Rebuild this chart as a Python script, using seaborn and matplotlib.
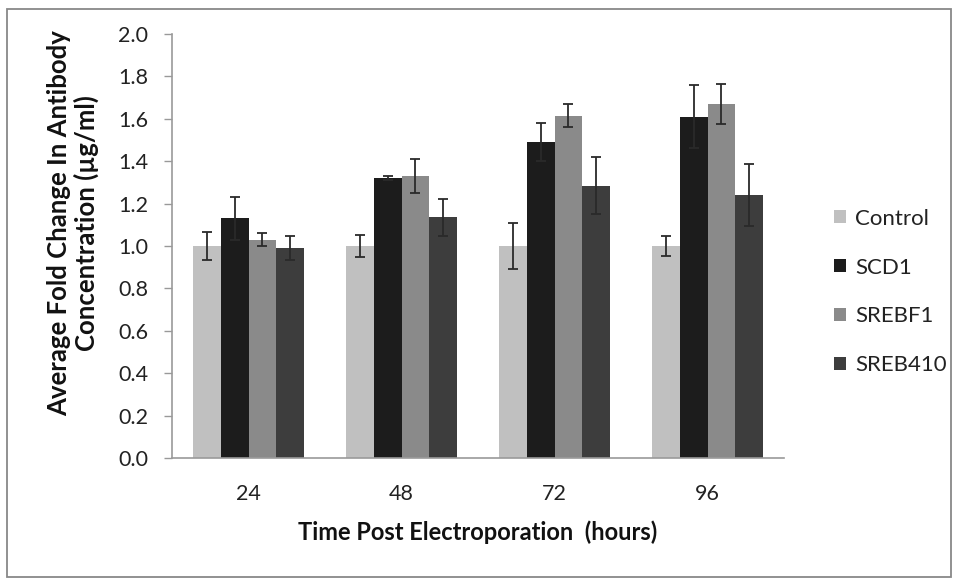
import matplotlib
matplotlib.use("Agg")
import matplotlib.pyplot as plt
import seaborn as sns
import pandas as pd
from matplotlib.patches import Rectangle
from matplotlib.ticker import FixedLocator

# ---- data ----
time_points = ["24", "48", "72", "96"]
groups = ["Control", "SCD1", "SREBF1", "SREB410"]
control_vals = [1.00, 1.00, 1.00, 1.00]
scd1_vals = [1.13, 1.32, 1.49, 1.61]
srebf1_vals = [1.03, 1.33, 1.615, 1.67]
sreb410_vals = [0.99, 1.135, 1.285, 1.24]
control_err = [0.065, 0.05, 0.11, 0.045]
scd1_err = [0.10, 0.01, 0.09, 0.148]
srebf1_err = [0.03, 0.08, 0.053, 0.095]
sreb410_err = [0.055, 0.088, 0.136, 0.145]
y_ticks = [0.0, 0.2, 0.4, 0.6, 0.8, 1.0, 1.2, 1.4, 1.6, 1.8, 2.0]

values = [control_vals, scd1_vals, srebf1_vals, sreb410_vals]
errors = [control_err, scd1_err, srebf1_err, sreb410_err]
rows = []
for g, vals in zip(groups, values):
    for t, v in zip(time_points, vals):
        rows.append({"time": t, "group": g, "value": v})
df = pd.DataFrame(rows)

colors = ["#c0c0c0", "#1c1c1c", "#8a8a8a", "#3d3d3d"]

sns.set_style("white")
plt.rcParams["font.family"] = ["Lato", "DejaVu Sans"]

W, H = 959, 578
fig = plt.figure(figsize=(W / 100, H / 100), dpi=100)
ax = fig.add_axes([172 / W, 1 - 458 / H, (784 - 172) / W, (458 - 34) / H])

sns.barplot(data=df, x="time", y="value", hue="group", order=time_points,
            hue_order=groups, palette=colors, width=0.72, gap=0,
            errorbar=None, saturation=1, linewidth=0, ax=ax, legend=True)

for cont, errs in zip(ax.containers, errors):
    xs = [b.get_x() + b.get_width() / 2 for b in cont]
    hs = [b.get_height() for b in cont]
    ax.errorbar(xs, hs, yerr=errs, fmt="none", ecolor="#2a2a2a",
                elinewidth=1.3, capsize=3.8, capthick=1.3, zorder=5)

ax.set_ylim(0, 2.0)
ax.set_xlim(-0.5, 3.5)
ax.set_yticks(y_ticks)
ax.set_yticklabels([f"{t:.1f}" for t in y_ticks], fontsize=15.5, color="#222222")
ax.set_xticks(range(len(time_points)))
ax.set_xticklabels(time_points, fontsize=15.5, color="#222222")
ax.xaxis.set_minor_locator(FixedLocator([-0.5, 0.5, 1.5, 2.5, 3.5]))
ax.tick_params(axis="x", which="major", length=0, pad=19)
ax.tick_params(axis="x", which="minor", length=6, width=1, color="#999999", direction="out")
ax.tick_params(axis="y", which="major", length=6, width=1, color="#999999", direction="out", pad=11, left=True)

for s in ["top", "right"]:
    ax.spines[s].set_visible(False)
for s in ["left", "bottom"]:
    ax.spines[s].set_color("#9a9a9a")
    ax.spines[s].set_linewidth(1.2)

ax.set_xlabel("Time Post Electroporation  (hours)", fontsize=17, fontweight="bold", color="#111111")
ax.xaxis.set_label_coords(0.5, -0.1745)
ax.xaxis.label.set_verticalalignment("center")
ax.set_ylabel("")
fig.text(73 / W, 1 - 223 / H, "Average Fold Change In Antibody\nConcentration (\u00b5g/ml)",
         rotation=90, ha="center", va="center", multialignment="center",
         fontsize=18.5, fontweight="bold", color="#111111", linespacing=1.15)

leg = ax.get_legend()
handles, labels = ax.get_legend_handles_labels()
leg.remove()
fig.legend(handles, labels, loc="center left", bbox_to_anchor=(823 / W, 1 - 292 / H),
           frameon=False, fontsize=16, handlelength=0.54, handleheight=0.54,
           handletextpad=0.4, labelspacing=1.3, borderpad=0, labelcolor="#222222")

fig.add_artist(Rectangle((7 / W, 1 / H), (951 - 7) / W, (569 - 1) / H,
                         transform=fig.transFigure, fill=False,
                         edgecolor="#888888", linewidth=1.3))

fig.savefig("out.png", dpi=100)
